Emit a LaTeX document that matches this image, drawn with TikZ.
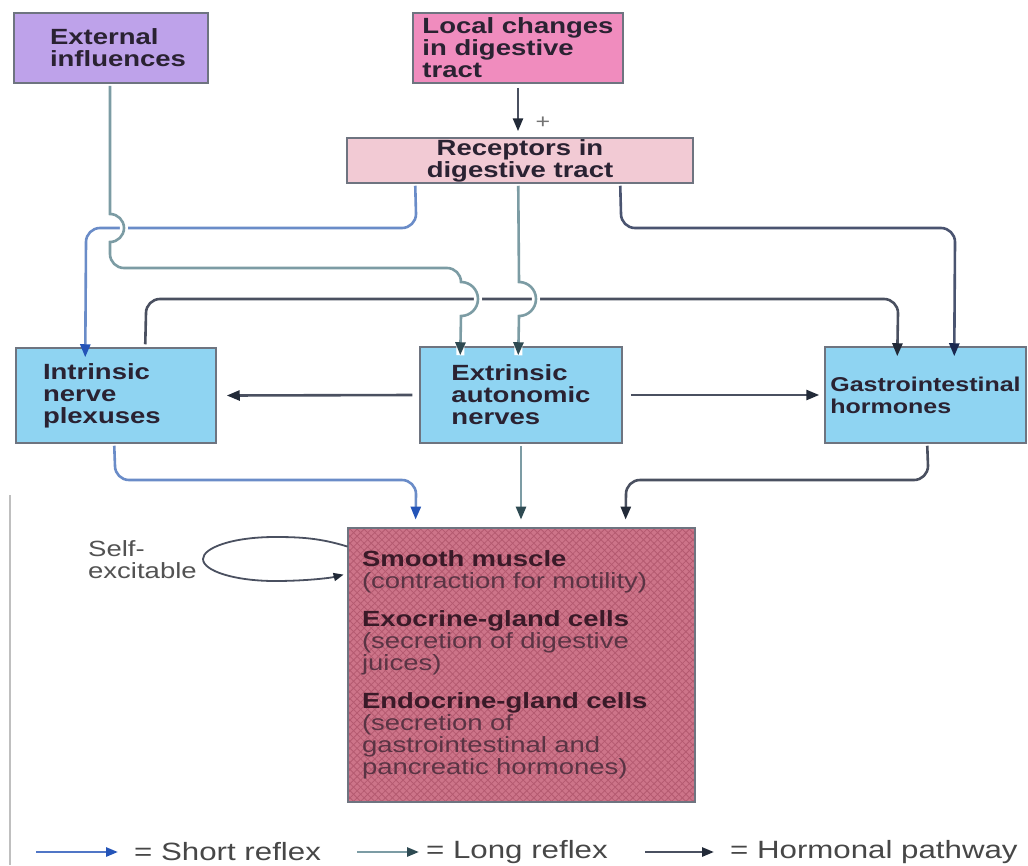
\documentclass[tikz,border=0pt]{standalone}
\usepackage{fontspec}
\setmainfont{Liberation Sans}[FakeStretch=1.25]
\usetikzlibrary{arrows.meta,calc,patterns.meta}
\definecolor{extfill}{HTML}{BEA2EA}
\definecolor{locfill}{HTML}{F08CBE}
\definecolor{recfill}{HTML}{F2CAD4}
\definecolor{bluefill}{HTML}{8FD4F2}
\definecolor{tgtfill}{HTML}{CD7489}
\definecolor{tgtpat}{HTML}{B45A70}
\definecolor{boxline}{HTML}{6E7480}
\definecolor{labeltext}{HTML}{2A2232}
\definecolor{tgtbold}{HTML}{3A1A28}
\definecolor{tgtreg}{HTML}{5A3444}
\definecolor{shortc}{HTML}{6A8CC8}
\definecolor{shorttip}{HTML}{2454B8}
\definecolor{longc}{HTML}{7C9CA4}
\definecolor{longtip}{HTML}{2E4A52}
\definecolor{hormc}{HTML}{4A5060}
\definecolor{hormtip}{HTML}{222A38}
\definecolor{navyc}{HTML}{4A5470}
\definecolor{navytip}{HTML}{1A2850}
\begin{document}
\begin{tikzpicture}[x=1pt,y=1pt,
  box/.style={draw=boxline, line width=1.5pt, inner sep=0pt,
    font=\bfseries\fontsize{22}{22}\selectfont, text=labeltext},
  conn/.style={line width=2.6pt},
  shortl/.style={conn, draw=shortc, -{Triangle[length=13pt,width=10pt,color=shorttip]}},
  longl/.style={conn, draw=longc, -{Triangle[length=13pt,width=10pt,color=longtip]}},
  horml/.style={conn, draw=hormc, -{Triangle[length=13pt,width=10pt,color=hormtip]}},
  navyl/.style={conn, draw=navyc, -{Triangle[length=13pt,width=10pt,color=navytip]}},
  hop/.style={preaction={draw=white, line width=8pt, -}},
  lab/.style={inner sep=0pt, font=\fontsize{22}{22}\selectfont}
]
\useasboundingbox (0,0) rectangle (1028,-865);
\fill[white] (0,0) rectangle (1028,-865);
\draw[line width=1.5pt, draw=black!25] (10,-495) -- (10,-865);

% boxes
\node[box, fill=extfill, minimum height=70pt, inner xsep=36pt, text width=122pt, align=left] (ext) at (111,-48) {External\\influences};
\node[box, fill=locfill, minimum width=210pt, minimum height=70pt, align=left] (loc) at (518,-48) {Local changes\\in digestive\\tract};
\node[box, fill=recfill, minimum width=346pt, minimum height=45pt, align=center] (rec) at (520,-160.5) {Receptors in\\digestive tract};
\node[box, fill=bluefill, minimum height=95pt, inner xsep=27pt, text width=146pt, align=left] (intr) at (116,-395.5) {Intrinsic\\nerve\\plexuses};
\node[box, fill=bluefill, minimum width=202pt, minimum height=96pt, align=left] (extr) at (521,-395) {Extrinsic\\autonomic\\nerves};
\node[box, fill=bluefill, minimum width=201pt, minimum height=96pt, align=left, font=\bfseries\fontsize{20}{22}\selectfont] (gi) at (925.5,-395) {Gastrointestinal\\hormones};
\node[box, preaction={fill=tgtfill},
  preaction={pattern={Lines[angle=45,distance=5pt,line width=0.8pt]}, pattern color=tgtpat},
  pattern={Lines[angle=-45,distance=5pt,line width=0.8pt]}, pattern color=tgtpat,
  minimum height=274pt, inner xsep=14pt, text width=319pt, align=left,
  font=\fontsize{22}{22}\selectfont, text=tgtreg] (tgt) at (521.5,-665)
  {{\bfseries\color{tgtbold}Smooth muscle}\\(contraction for motility)\\[16pt]
   {\bfseries\color{tgtbold}Exocrine-gland cells}\\(secretion of digestive\\juices)\\[16pt]
   {\bfseries\color{tgtbold}Endocrine-gland cells}\\(secretion of\\gastrointestinal and\\pancreatic hormones)};

% local -> receptors
\draw[horml] ($(loc.south)+(0,-4)$) -- ($(loc.south |- rec.north)+(0,6)$);
\node[lab, text=black!55, font=\fontsize{20}{20}\selectfont] (plus) at (543,-123) {+};

% receptors -> intrinsic (short reflex)
\draw[shortl] ($(rec.south west)+(69,-2)$) -- (416,-214) arc[start angle=0, end angle=-90, radius=14pt]
  -- (100,-228) arc[start angle=90, end angle=180, radius=14pt] -- ($(intr.north west)+(70,-10)$);
% intrinsic -> GI hormones (hormonal)
\draw[horml] ($(intr.north west)+(130,3)$) -- (146,-313) arc[start angle=180, end angle=90, radius=14pt]
  -- (884,-299) arc[start angle=90, end angle=0, radius=14pt] -- ($(gi.north west)+(73,-10)$);
% receptors -> GI hormones
\draw[navyl] ($(rec.south west)+(274,-2)$) -- (621,-214) arc[start angle=180, end angle=270, radius=14pt]
  -- (941,-228) arc[start angle=90, end angle=0, radius=14pt] -- ($(gi.north west)+(130,-10)$);
% external -> extrinsic (long reflex)
\draw[longl, hop] ($(ext.south)+(-1,-2)$) -- (110,-214) arc[start angle=90, end angle=-90, radius=14pt]
  -- (110,-254) arc[start angle=180, end angle=270, radius=14pt]
  -- (447,-268) arc[start angle=90, end angle=0, radius=14pt]
  arc[start angle=90, end angle=-90, radius=17pt] -- ($(extr.north west)+(41,-9)$);
% receptors -> extrinsic (long reflex)
\draw[longl, hop] ($(rec.south west)+(172,-2)$) -- (519,-282) arc[start angle=90, end angle=-90, radius=17pt]
  -- ($(extr.north west)+(99,-9)$);

% extrinsic -> intrinsic / GI
\draw[horml] ($(extr.west)+(-7,0)$) -- ($(intr.east)+(10,0)$);
\draw[horml] ($(extr.east)+(8,0)$) -- ($(gi.west)+(-5,0)$);

% to target
\draw[shortl] ($(intr.south west)+(99,-2)$) -- (115,-466) arc[start angle=180, end angle=270, radius=14pt]
  -- (402,-480) arc[start angle=90, end angle=0, radius=14pt] -- ($(tgt.north west)+(68,8)$);
\draw[longl] ($(extr.south)+(0,-2)$) -- ($(extr.south |- tgt.north)+(0,8)$);
\draw[horml] ($(gi.south west)+(103,-2)$) -- (928,-466) arc[start angle=0, end angle=-90, radius=14pt]
  -- (640,-480) arc[start angle=90, end angle=180, radius=14pt] -- ($(tgt.north west)+(278,8)$);

% self-excitable loop
\node[lab, anchor=west, align=left, text=black!68] (self) at (88,-560) {Self-\\excitable};
\draw[line width=1.8pt, draw=hormc, -{Triangle[length=10pt,width=8pt,color=hormtip]}]
  ($(tgt.north west)+(0,-19)$) .. controls (320,-538) and (300,-537) .. (275,-537)
  .. controls (232,-537) and (203,-548) .. (203,-559)
  .. controls (203,-571) and (235,-581) .. (275,-581)
  .. controls (305,-581) and (330,-578) .. ($(tgt.north west)+(-4,-47)$);

% legend
\coordinate (l1a) at (36,-852); \coordinate (l1b) at (118,-852);
\coordinate (l2a) at (357,-852); \coordinate (l2b) at (419,-852);
\coordinate (l3a) at (645,-852); \coordinate (l3b) at (714,-852);
\draw[conn, draw=shorttip!80!white, -{Triangle[length=12pt,width=9pt,color=shorttip]}] (l1a) -- (l1b);
\draw[conn, draw=longc, -{Triangle[length=12pt,width=9pt,color=longtip]}] (l2a) -- (l2b);
\draw[conn, draw=hormc, -{Triangle[length=12pt,width=9pt,color=hormtip]}] (l3a) -- (l3b);
\node[lab, anchor=west, text=black!72, font=\fontsize{25}{25}\selectfont] (t1) at (134,-852) {= Short reflex};
\node[lab, anchor=west, text=black!72, font=\fontsize{25}{25}\selectfont] (t2) at (426,-852) {= Long reflex};
\node[lab, anchor=west, text=black!72, font=\fontsize{25}{25}\selectfont] (t3) at (730,-852) {= Hormonal pathway};
\end{tikzpicture}
\end{document}
